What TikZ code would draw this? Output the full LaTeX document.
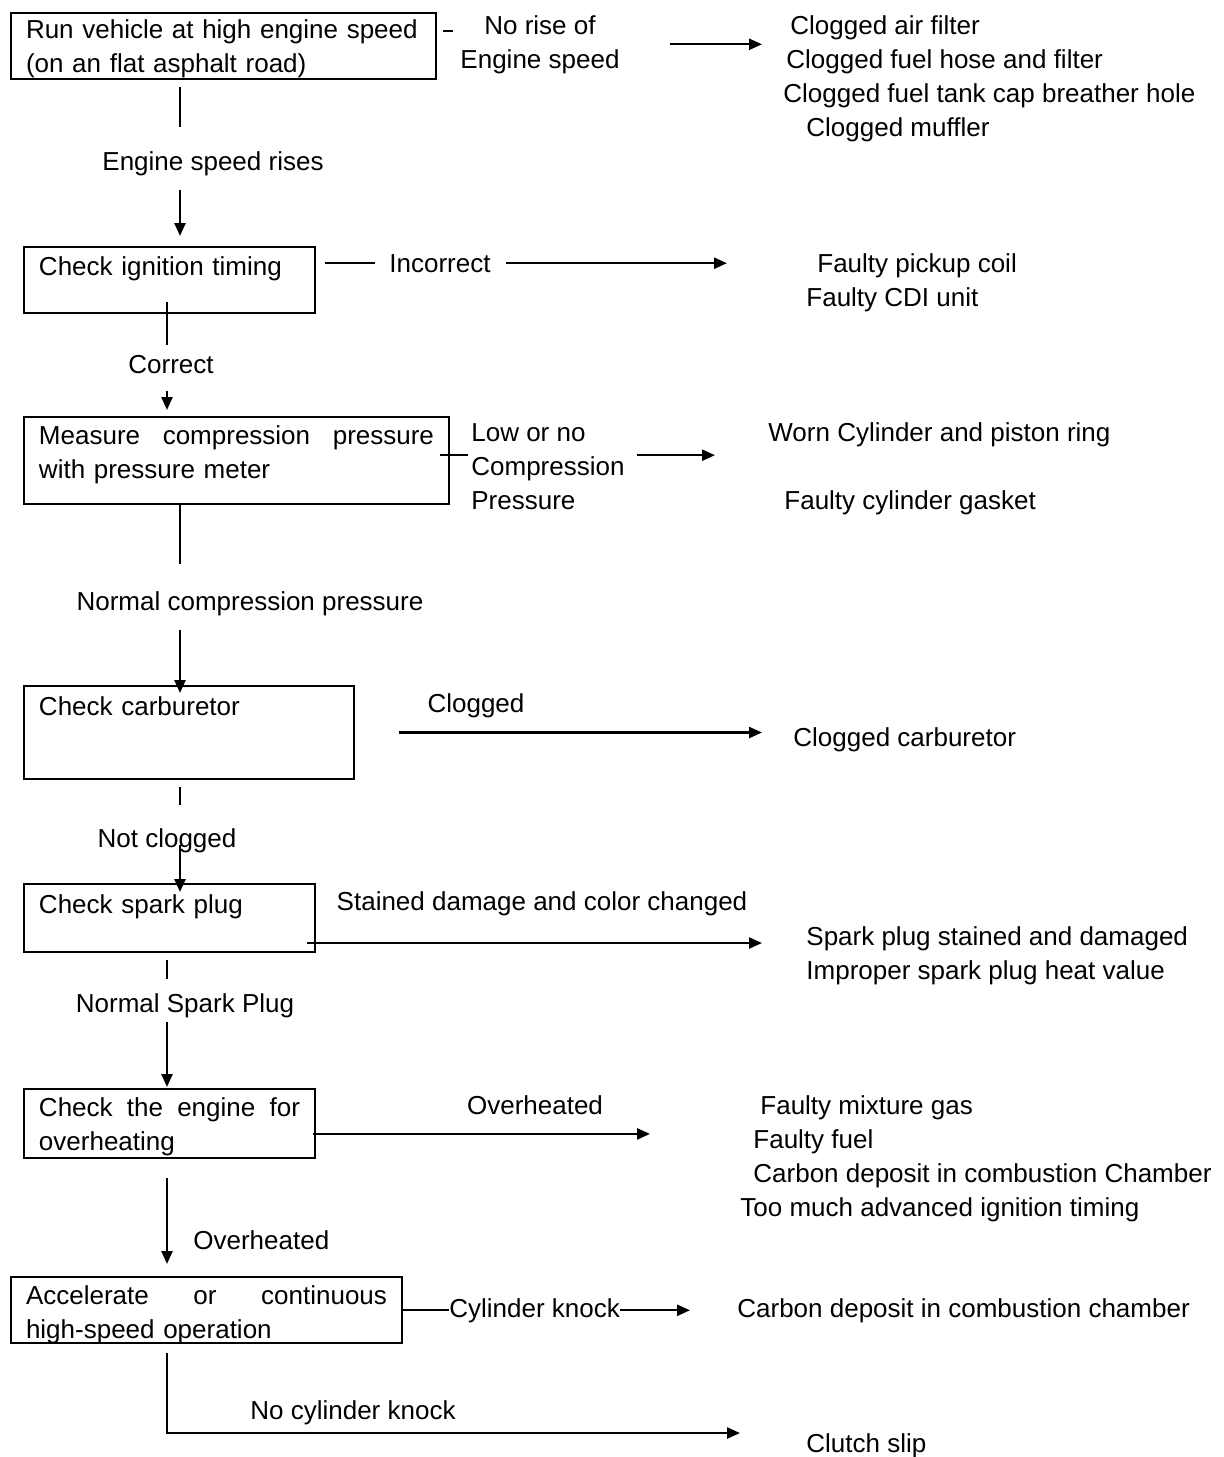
\documentclass[tikz,border=0pt]{standalone}
\usepackage{fontspec}
\setmainfont{Liberation Sans}
\usetikzlibrary{arrows.meta}

\tikzset{
  stepbox/.style={draw, line width=1pt, anchor=north west, align=left,
    inner xsep=7.5pt, inner ysep=0pt, text height=13.5pt},
  lbl/.style={inner sep=0pt},
  link/.style={line width=1pt},
  flow/.style={line width=1.2pt, -{Triangle[length=6.5pt,width=5.5pt]}},
}

\begin{document}
\begin{tikzpicture}[x=0.5pt, y=-0.5pt, font=\fontsize{13}{17}\selectfont]
\useasboundingbox (0,0) rectangle (1223,1457);
\coordinate (colA) at (180,0);
\coordinate (colB) at (167,0);
\coordinate (k8) at (740,1433);

% steps
\node[stepbox, text width=197.5pt, text height=12.5pt, text depth=20.5pt] (run) at (10,12)
  {Run vehicle at high engine speed\\(on an flat asphalt road)};
\node[stepbox, text width=130.5pt, text height=14pt, text depth=19pt] (ign) at (23,246)
  {Check ignition timing};
\node[stepbox, text width=197.5pt, text depth=30pt] (meas) at (23,416)
  {Measure\hfill compression\hfill pressure\\with pressure meter};
\node[stepbox, text width=150pt, text height=14.5pt, text depth=32pt] (carb) at (23,685)
  {Check carburetor};
\node[stepbox, text width=130.5pt, text height=14.5pt, text depth=19.5pt] (spark) at (23,883)
  {Check spark plug};
\node[stepbox, text width=130.5pt, text depth=21pt] (heat) at (23,1088)
  {Check\hfill the\hfill engine\hfill for\\overheating};
\node[stepbox, text width=180.5pt, text depth=19.5pt] (accel) at (10,1276)
  {Accelerate\hfill or\hfill continuous\\high-speed operation};

% labels on the main line
\node[lbl, anchor=base] (rises) at (213,170) {Engine speed rises};
\node[lbl, anchor=base] (correct) at (171,373) {Correct};
\node[lbl, anchor=base] (normal) at (250,610) {Normal compression pressure};
\node[lbl, anchor=base] (notclog) at (167,847) {Not clogged};
\node[lbl, anchor=base] (normsp) at (185,1012) {Normal Spark Plug};
\node[lbl, anchor=base west] (hot) at (193,1249) {Overheated};
\node[lbl, anchor=base] (noknock) at (353,1419) {No cylinder knock};

% labels on the branches (base = last line)
\node[lbl, anchor=base, align=center] (norise) at (540,68) {No rise of\\Engine speed};
\node[lbl, anchor=base] (incorr) at (440,272) {Incorrect};
\node[lbl, anchor=base west, align=left] (low) at (471,509) {Low or no\\Compression\\Pressure};
\node[lbl, anchor=base] (clogged) at (476,712) {Clogged};
\node[lbl, anchor=base] (stained) at (542,910) {Stained damage and color changed};
\node[lbl, anchor=base] (overh) at (535,1114) {Overheated};
\node[lbl, anchor=base west] (knock) at (449,1317) {Cylinder knock};

% causes
\node[lbl, anchor=base west, align=left] (clog) at (783,136)
  {\hspace*{3.5pt}Clogged air filter\\\hspace*{1.5pt}Clogged fuel hose and filter\\Clogged fuel tank cap breather hole\\\hspace*{11.5pt}Clogged muffler};
\node[lbl, anchor=base west, align=left] (pickup) at (806,306)
  {\hspace*{5.5pt}Faulty pickup coil\\Faulty CDI unit};
\node[lbl, anchor=base west, align=left] (worn) at (768,509)
  {Worn Cylinder and piston ring\\[17pt]\hspace*{8pt}Faulty cylinder gasket};
\node[lbl, anchor=base west] (cfound) at (793,746) {Clogged carburetor};
\node[lbl, anchor=base west, align=left] (plugres) at (806,979)
  {Spark plug stained and damaged\\Improper spark plug heat value};
\node[lbl, anchor=base west, align=left] (mixres) at (740,1216)
  {\hspace*{10pt}Faulty mixture gas\\\hspace*{6.5pt}Faulty fuel\\\hspace*{6.5pt}Carbon deposit in combustion Chamber\\Too much advanced ignition timing};
\node[lbl, anchor=base west] (carbres) at (737,1317) {Carbon deposit in combustion chamber};
\node[lbl, anchor=base west] (clutch) at (806,1452) {Clutch slip};

% main line
\draw[link, shorten <=3.5pt, shorten >=11.7pt] (run.south -| colA) -- (rises.north -| colA);
\draw[flow, shorten <=7.2pt, shorten >=5pt] (rises.south -| colA) -- (ign.north -| colA);
\draw[link, shorten <=-6pt, shorten >=4.7pt] (ign.south -| colB) -- (correct.north -| colB);
\draw[flow, shorten <=8.5pt, shorten >=3pt] (correct.south -| colB) -- (meas.north -| colB);
\draw[link, shorten >=13.2pt] (meas.south -| colA) -- (normal.north -| colA);
\draw[flow, shorten <=7.2pt, shorten >=-4pt] (normal.south -| colA) -- (carb.north -| colA);
\draw[link, shorten <=3.5pt, shorten >=11.2pt] (carb.south -| colA) -- (notclog.north -| colA);
\draw[flow, shorten <=-3.7pt, shorten >=-4.5pt] (notclog.south -| colA) -- (spark.north -| colA);
\draw[link, shorten <=3.5pt, shorten >=6.7pt] (spark.south -| colB) -- (normsp.north -| colB);
\draw[flow, shorten <=2.2pt, shorten >=0.5pt] (normsp.south -| colB) -- (heat.north -| colB);
\draw[flow, shorten <=9.5pt, shorten >=6pt] (heat.south -| colB) -- (accel.north -| colB);
\draw[flow, shorten <=4.5pt] (accel.south -| colB) |- (k8);

% branches
\draw[link] ([shift={(3pt,7.5pt)}]run.east) -- ++(5pt,0);
\draw[flow, shorten <=25pt, shorten >=10.5pt] (norise.east) -- (norise.east -| clog.west);
\draw[link, shorten <=4.5pt, shorten >=7.2pt] (ign.east |- incorr.west) -- (incorr.west);
\draw[flow, shorten <=7.7pt, shorten >=39.5pt] (incorr.east) -- (incorr.east -| pickup.west);
\draw[link] ([shift={(-1.5pt,5.5pt)}]low.west) -- ++(-14pt,0);
\draw[flow, shorten <=6pt, shorten >=26.5pt] ([yshift=5.5pt]low.east) -- ([yshift=5.5pt]low.east -| worn.west);
\draw[flow, shorten <=22pt, shorten >=15.5pt] (carb.east) -- (carb.east -| cfound.west);
\draw[flow, shorten >=22pt] ([shift={(-4.5pt,-12.5pt)}]spark.east) -- ([yshift=-12.5pt]spark.east -| plugres.west);
\draw[flow, shorten >=45pt] ([shift={(-1.5pt,-5.2pt)}]heat.east) -- ([yshift=-5.2pt]heat.east -| mixres.west);
\draw[link] (accel.east) -- (accel.east -| knock.west);
\draw[flow, shorten >=23.5pt] (knock.east) -- (knock.east -| carbres.west);
\end{tikzpicture}
\end{document}
